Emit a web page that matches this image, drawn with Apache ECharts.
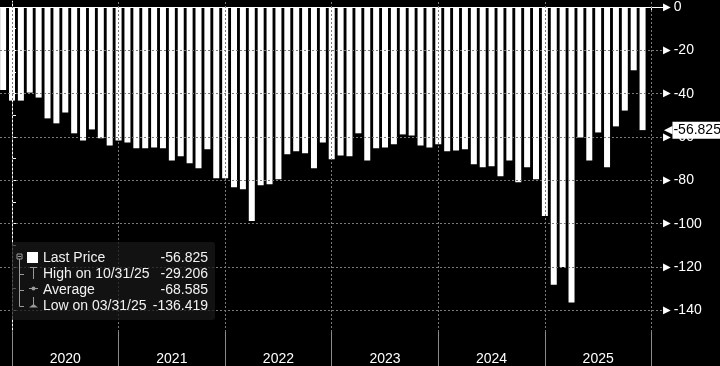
<!DOCTYPE html>
<html><head><meta charset="utf-8">
<script src="https://cdn.jsdelivr.net/npm/echarts@6/dist/echarts.min.js"></script>
<style>html,body{margin:0;padding:0;background:#000;}#c{width:720px;height:366px;}</style>
</head><body><div id="c"></div>
<script>
const months = ['2019-11','2019-12',
 '2020-01','2020-02','2020-03','2020-04','2020-05','2020-06','2020-07','2020-08','2020-09','2020-10','2020-11','2020-12',
 '2021-01','2021-02','2021-03','2021-04','2021-05','2021-06','2021-07','2021-08','2021-09','2021-10','2021-11','2021-12',
 '2022-01','2022-02','2022-03','2022-04','2022-05','2022-06','2022-07','2022-08','2022-09','2022-10','2022-11','2022-12',
 '2023-01','2023-02','2023-03','2023-04','2023-05','2023-06','2023-07','2023-08','2023-09','2023-10','2023-11','2023-12',
 '2024-01','2024-02','2024-03','2024-04','2024-05','2024-06','2024-07','2024-08','2024-09','2024-10','2024-11','2024-12',
 '2025-01','2025-02','2025-03','2025-04','2025-05','2025-06','2025-07','2025-08','2025-09','2025-10','2025-11'];
const values = [-38.3,-43.2,
 -43.2,-39.5,-41.8,-51.4,-53.7,-48.7,-58.3,-61.6,-56.5,-60.6,-63.9,-61.6,
 -62.5,-65.2,-65.2,-64.8,-65.2,-70.8,-68.9,-72.1,-74.4,-65.7,-79.0,-79.0,
 -83.2,-84.1,-98.8,-82.3,-81.8,-79.5,-68.0,-66.6,-67.5,-74.4,-62.5,-70.3,
 -68.5,-68.9,-58.3,-70.8,-65.2,-64.8,-63.4,-58.8,-59.3,-63.9,-64.8,-63.4,
 -66.6,-66.2,-65.7,-72.6,-74.0,-73.5,-78.1,-70.8,-80.9,-74.0,-79.5,-96.5,
 -128.2,-120.0,-136.419,-60.2,-70.8,-57.9,-74.0,-55.1,-47.8,-29.206,-56.825];
const yearLabels = ['2020','2021','2022','2023','2024','2025'];
const yTickLabels = [0,-20,-40,-60,-80,-100,-120,-140];
const yMinorTicks = [0,-10,-20,-30,-40,-50,-60,-70,-80,-90,-100,-110,-120,-130,-140];
const legendNames = ['Last Price','High on 10/31/25','Average','Low on 03/31/25'];
const legendValues = ['-56.825','-29.206','-68.585','-136.419'];

// month index: Dec 2019 = 0 (year boundary for 2020)
function mIdx(s){const p=s.split('-');return (+p[0]-2019)*12 + (+p[1]) - 12;}
const barData = months.map((m,k)=>[mIdx(m), values[k]]);
const yearBounds = [0].concat(yearLabels.map((y,k)=>(k+1)*12));
const yearCenters = yearLabels.map((y,k)=>k*12+6);
const quarterTicks = []; for(let q=0;q<=72;q+=3) quarterTicks.push(q);
const lastVal = values[values.length-1];

const FONT = '"Liberation Sans", Arial, sans-serif';
const GRID = '#7a7a7a';
const chart = echarts.init(document.getElementById('c'));
const gridLines = yearBounds.map(v=>({xAxis:v})).concat(yTickLabels.filter(v=>v!==0).map(v=>({yAxis:v})));

const gcol = '#9a9a9a';
const legendRows = [258,274,290,306];
const graphics = [
 {type:'rect', shape:{x:12,y:242,width:203,height:78,r:3}, style:{fill:'rgba(24,24,24,0.75)'}, z:10},
 {type:'rect', shape:{x:17,y:254,width:5,height:5}, style:{fill:'none',stroke:gcol,lineWidth:1}, z:11},
 {type:'line', shape:{x1:18,y1:256.5,x2:21,y2:256.5}, style:{stroke:gcol}, z:11},
 {type:'line', shape:{x1:19.5,y1:259,x2:19.5,y2:306.5}, style:{stroke:gcol}, z:11},
 {type:'line', shape:{x1:19.5,y1:274.5,x2:24,y2:274.5}, style:{stroke:gcol}, z:11},
 {type:'line', shape:{x1:19.5,y1:290.5,x2:24,y2:290.5}, style:{stroke:gcol}, z:11},
 {type:'line', shape:{x1:19.5,y1:306.5,x2:24,y2:306.5}, style:{stroke:gcol}, z:11},
 {type:'rect', shape:{x:27,y:252,width:11,height:11}, style:{fill:'#fff'}, z:11},
 {type:'line', shape:{x1:30,y1:267.5,x2:37,y2:267.5}, style:{stroke:gcol}, z:11},
 {type:'line', shape:{x1:33.5,y1:267.5,x2:33.5,y2:279}, style:{stroke:gcol}, z:11},
 {type:'line', shape:{x1:29,y1:288.5,x2:38,y2:288.5}, style:{stroke:gcol}, z:11},
 {type:'circle', shape:{cx:33.5,cy:288.5,r:2}, style:{fill:gcol}, z:11},
 {type:'line', shape:{x1:33.5,y1:297,x2:33.5,y2:307}, style:{stroke:gcol}, z:11},
 {type:'polygon', shape:{points:[[29,307.5],[38,307.5],[33.5,304]]}, style:{fill:gcol}, z:11}
];
legendNames.forEach((n,k)=>{
  graphics.push({type:'text', x:43, y:legendRows[k], style:{text:n, fill:'#f2f2f2', font:'14px '+FONT, verticalAlign:'middle', align:'left'}, z:11});
  graphics.push({type:'text', x:208, y:legendRows[k], style:{text:legendValues[k], fill:'#f2f2f2', font:'14px '+FONT, verticalAlign:'middle', align:'right'}, z:11});
});

chart.setOption({
  backgroundColor:'#000',
  animation:false,
  grid:{left:0, right:57, top:0, bottom:34, containLabel:false},
  xAxis:[
    {type:'value', min:-1.35, max:73.3, position:'bottom',
     axisLine:{show:true, lineStyle:{color:'#fff', width:1}},
     axisTick:{show:true, customValues:quarterTicks, length:3, lineStyle:{color:'#fff'}},
     axisLabel:{show:false}, splitLine:{show:false}},
    {type:'value', min:-1.35, max:73.3, position:'bottom',
     axisLine:{show:false},
     axisTick:{show:true, customValues:yearBounds, length:34, lineStyle:{color:'#8a8a8a'}},
     axisLabel:{show:true, customValues:yearCenters, margin:20, color:'#fff', fontSize:14, fontFamily:FONT,
       formatter:v=>yearLabels[Math.round((v-6)/12)]},
     splitLine:{show:false}}
  ],
  yAxis:{type:'value', position:'right', min:-150, max:2.67,
    axisLine:{show:true, lineStyle:{color:'#fff'}},
    axisTick:{show:true, customValues:yMinorTicks, length:4, lineStyle:{color:'#fff'}},
    axisLabel:{show:true, customValues:yTickLabels, margin:0,
      formatter:v=>'{t|▶}{v|'+v+'}',
      rich:{t:{fontFamily:'DejaVu Sans', fontSize:10, color:'#fff', padding:[0,3,0,0]},
            v:{fontFamily:FONT, fontSize:14, color:'#fff'}}},
    splitLine:{show:false}},
  series:[
    {type:'line', data:[], z:1, xAxisIndex:0,
     markLine:{silent:true, symbol:'none', animation:false, label:{show:false},
       lineStyle:{color:GRID, type:[2,2], width:1}, data:gridLines}},
    {type:'bar', data:barData, xAxisIndex:0, barWidth:6, z:2, itemStyle:{color:'#fff'}},
    {type:'line', data:[], z:5, xAxisIndex:0, clip:false,
     markLine:{silent:true, symbol:'none', animation:false,
       lineStyle:{color:'rgba(0,0,0,0)', width:1, opacity:1},
       label:{show:true, position:'end', distance:1, opacity:1,
           formatter:'{a|◀}{b|'+lastVal.toFixed(3)+'}',
           rich:{a:{fontFamily:'DejaVu Sans', fontSize:11, color:'#fff'},
                 b:{fontFamily:FONT, fontSize:14, color:'#000', backgroundColor:'#fff', padding:[2,8,1,1]}}},
       data:[{yAxis:lastVal}]}}
  ],
  graphic:graphics
});
</script></body></html>
